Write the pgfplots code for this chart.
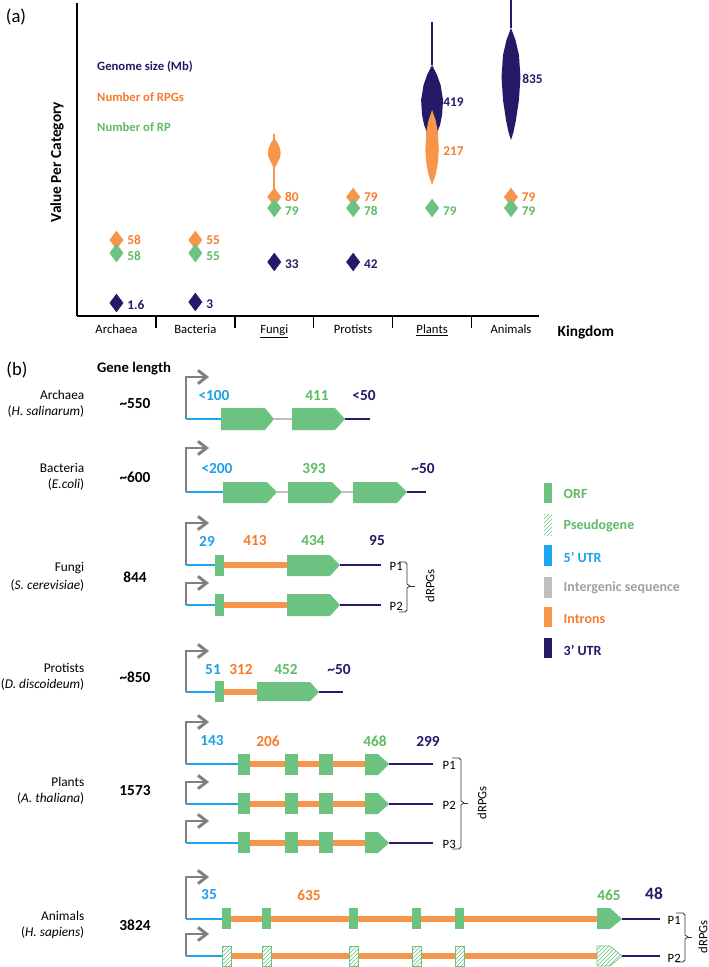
\documentclass[border=0pt]{standalone}
\usepackage{fontspec}
\setmainfont{Carlito}
\usepackage{pgfplots}
\pgfplotsset{compat=1.18}
\usetikzlibrary{arrows.meta,patterns}
\definecolor{navy}{HTML}{241A68}
\definecolor{orfgreen}{HTML}{6CC280}
\definecolor{greentext}{HTML}{5DBB63}
\definecolor{orfill}{HTML}{F7964A}
\definecolor{ortext}{HTML}{F47C2C}
\definecolor{utrblue}{HTML}{1BA6EF}
\definecolor{bluetext}{HTML}{1E9FEB}
\definecolor{igsgray}{HTML}{BFBFBF}
\definecolor{arrowgray}{HTML}{808080}
\definecolor{graytext}{HTML}{A0A0A0}
\newcommand\fNum{\fontsize{11.5}{13}\selectfont\bfseries}
\newcommand\fLab{\fontsize{10}{12}\selectfont}
\newcommand\fP{\fontsize{9.5}{11}\selectfont}
\newcommand\fV{\fontsize{10}{12}\selectfont\bfseries}
\pgfplotsset{
 utr5/.style={color=utrblue, line width=1.9pt},
 igs/.style={color=igsgray, line width=1.9pt},
 intr/.style={color=orfill, line width=4pt},
 utr3/.style={color=navy, line width=1.9pt},
 tss/.style={color=arrowgray, line width=2.2pt, -{Straight Barb[length=6.5pt,width=10pt]}},
 orf/.style={fill=orfgreen, draw=none},
 pseudo/.style={pattern=north east lines, pattern color=orfgreen, draw=orfgreen, line width=0.5pt},
 brk/.style={color=black!80, line width=0.6pt},
}
\begin{document}
\begin{tikzpicture}
\path[use as bounding box] (0,0) rectangle (531.75pt,725.25pt);
\begin{axis}[at={(0,0)}, anchor=south west, scale only axis, width=531.75pt, height=725.25pt,
 xmin=0, xmax=709, ymin=0, ymax=967, y dir=reverse, hide axis, clip=false,
 every node/.append style={inner sep=0pt}]
% panel labels
\node[anchor=center, font=\fontsize{14}{16}\selectfont] at (axis cs:16,17) {(a)};
\node[anchor=center, font=\fontsize{14}{16}\selectfont] at (axis cs:17,370) {(b)};
\node[anchor=center, font=\fontsize{11}{13}\selectfont\bfseries] at (axis cs:134,369) {Gene length};
% left labels
\node[anchor=east, font=\fLab] at (axis cs:89,395) {Archaea};
\node[anchor=east, font=\fLab] at (axis cs:89,412) {(\textit{H. salinarum})};
\node[anchor=east, font=\fLab] at (axis cs:89,468) {Bacteria};
\node[anchor=east, font=\fLab] at (axis cs:89,485) {(\textit{E.coli})};
\node[anchor=east, font=\fLab] at (axis cs:89,568) {Fungi};
\node[anchor=east, font=\fLab] at (axis cs:89,586) {(\textit{S. cerevisiae})};
\node[anchor=east, font=\fLab] at (axis cs:89,668) {Protists};
\node[anchor=east, font=\fLab] at (axis cs:89,685) {(\textit{D. discoideum})};
\node[anchor=east, font=\fLab] at (axis cs:89,782) {Plants};
\node[anchor=east, font=\fLab] at (axis cs:89,799) {(\textit{A. thaliana})};
\node[anchor=east, font=\fLab] at (axis cs:89,916) {Animals};
\node[anchor=east, font=\fLab] at (axis cs:89,933) {(\textit{H. sapiens})};
% gene lengths
\node[font=\fNum] at (axis cs:135,404) {\textasciitilde550};
\node[font=\fNum] at (axis cs:135,477) {\textasciitilde600};
\node[font=\fNum] at (axis cs:135,577) {844};
\node[font=\fNum] at (axis cs:135,677) {\textasciitilde850};
\node[font=\fNum] at (axis cs:135,791) {1573};
\node[font=\fNum] at (axis cs:135,925) {3824};
% ---------- Archaea
\addplot[tss] coordinates {(186,419) (186,377) (209,377)};
\addplot[utr5] coordinates {(186,419) (221,419)};
\addplot[igs] coordinates {(274,419) (292,419)};
\addplot[utr3] coordinates {(345,419) (370,419)};
\addplot[orf] coordinates {(221,408) (265,408) (274,419) (265,430) (221,430)};
\addplot[orf] coordinates {(292,408) (335,408) (345,419) (335,430) (292,430)};
\node[font=\fNum, text=bluetext] at (axis cs:214,396) {<100};
\node[font=\fNum, text=greentext] at (axis cs:317,396) {411};
\node[font=\fNum, text=navy] at (axis cs:364,396) {<50};
% ---------- Bacteria
\addplot[tss] coordinates {(186,492) (186,448) (209,448)};
\addplot[utr5] coordinates {(186,492) (223,492)};
\addplot[igs] coordinates {(277,492) (288,492)};
\addplot[igs] coordinates {(342,492) (353,492)};
\addplot[utr3] coordinates {(407,492) (426,492)};
\addplot[orf] coordinates {(223,482) (267,482) (277,492) (267,503) (223,503)};
\addplot[orf] coordinates {(288,482) (332,482) (342,492) (332,503) (288,503)};
\addplot[orf] coordinates {(353,482) (397,482) (407,492) (397,503) (353,503)};
\node[font=\fNum, text=bluetext] at (axis cs:217,469) {<200};
\node[font=\fNum, text=greentext] at (axis cs:314,469) {393};
\node[font=\fNum, text=navy] at (axis cs:423,469) {\textasciitilde50};
% ---------- Fungi P1
\addplot[tss] coordinates {(186,565) (186,523) (209,523)};
\addplot[utr5] coordinates {(186,565) (215,565)};
\addplot[intr] coordinates {(224,565) (287,565)};
\addplot[utr3] coordinates {(340,565) (381,565)};
\addplot[orf] coordinates {(215,555) (224,555) (224,576) (215,576)};
\addplot[orf] coordinates {(287,555) (330,555) (340,565) (330,576) (287,576)};
% Fungi P2
\addplot[tss] coordinates {(186,605) (186,583) (209,583)};
\addplot[utr5] coordinates {(186,605) (215,605)};
\addplot[intr] coordinates {(224,605) (287,605)};
\addplot[utr3] coordinates {(340,605) (381,605)};
\addplot[orf] coordinates {(215,594) (224,594) (224,616) (215,616)};
\addplot[orf] coordinates {(287,594) (330,594) (340,605) (330,616) (287,616)};
\node[anchor=west, font=\fP] at (axis cs:385,566) {P1};
\node[anchor=west, font=\fP] at (axis cs:385,606) {P2};
\addplot[brk] coordinates {(399,562) (405,562) (407,564) (407,584) (410,586) (407,588) (407,610) (405,612) (399,612)};
\addplot[brk] coordinates {(410,586) (415,586)};
\node[rotate=90, font=\fP] at (axis cs:430,586) {dRPGs};
\node[font=\fNum, text=bluetext] at (axis cs:207,541) {29};
\node[font=\fNum, text=ortext] at (axis cs:255,541) {413};
\node[font=\fNum, text=greentext] at (axis cs:313,541) {434};
\node[font=\fNum, text=navy] at (axis cs:377,541) {95};
% ---------- Protists
\addplot[tss] coordinates {(186,692) (186,651) (209,651)};
\addplot[utr5] coordinates {(186,692) (215,692)};
\addplot[intr] coordinates {(224,692) (257,692)};
\addplot[utr3] coordinates {(319,692) (343,692)};
\addplot[orf] coordinates {(215,681) (224,681) (224,702) (215,702)};
\addplot[orf] coordinates {(257,682) (310,682) (319,692) (310,701) (257,701)};
\node[font=\fNum, text=bluetext] at (axis cs:213,670) {51};
\node[font=\fNum, text=ortext] at (axis cs:241,670) {312};
\node[font=\fNum, text=greentext] at (axis cs:286,670) {452};
\node[font=\fNum, text=navy] at (axis cs:339,670) {\textasciitilde50};
% ---------- Plants P1
\addplot[tss] coordinates {(186,764) (186,722) (209,722)};
\addplot[utr5] coordinates {(186,764) (238,764)};
\addplot[intr] coordinates {(250,764) (365,764)};
\addplot[utr3] coordinates {(389,764) (433,764)};
\addplot[orf] coordinates {(238,754) (250,754) (250,775) (238,775)};
\addplot[orf] coordinates {(285,754) (298,754) (298,775) (285,775)};
\addplot[orf] coordinates {(319,754) (333,754) (333,775) (319,775)};
\addplot[orf] coordinates {(365,754) (378,754) (389,764) (378,775) (365,775)};
% Plants P2
\addplot[tss] coordinates {(186,804) (186,782) (209,782)};
\addplot[utr5] coordinates {(186,804) (238,804)};
\addplot[intr] coordinates {(250,804) (365,804)};
\addplot[utr3] coordinates {(389,804) (433,804)};
\addplot[orf] coordinates {(238,793) (250,793) (250,814) (238,814)};
\addplot[orf] coordinates {(285,793) (298,793) (298,814) (285,814)};
\addplot[orf] coordinates {(319,793) (333,793) (333,814) (319,814)};
\addplot[orf] coordinates {(365,793) (378,793) (389,804) (378,814) (365,814)};
% Plants P3
\addplot[tss] coordinates {(186,843) (186,821) (209,821)};
\addplot[utr5] coordinates {(186,843) (238,843)};
\addplot[intr] coordinates {(250,843) (365,843)};
\addplot[utr3] coordinates {(389,843) (433,843)};
\addplot[orf] coordinates {(238,832) (250,832) (250,853) (238,853)};
\addplot[orf] coordinates {(285,832) (298,832) (298,853) (285,853)};
\addplot[orf] coordinates {(319,832) (333,832) (333,853) (319,853)};
\addplot[orf] coordinates {(365,832) (378,832) (389,843) (378,853) (365,853)};
\node[anchor=west, font=\fP] at (axis cs:438,765) {P1};
\node[anchor=west, font=\fP] at (axis cs:438,805) {P2};
\node[anchor=west, font=\fP] at (axis cs:438,844) {P3};
\addplot[brk] coordinates {(452,758) (459,758) (461,760) (461,801) (464,803) (461,805) (461,847) (459,849) (452,849)};
\addplot[brk] coordinates {(464,803) (468,803)};
\node[rotate=90, font=\fP] at (axis cs:482,803) {dRPGs};
\node[font=\fNum, text=bluetext] at (axis cs:212,741) {143};
\node[font=\fNum, text=ortext] at (axis cs:268,741) {206};
\node[font=\fNum, text=greentext] at (axis cs:375,741) {468};
\node[font=\fNum, text=navy] at (axis cs:428,741) {299};
% ---------- Animals P1
\addplot[tss] coordinates {(186,919) (186,877) (209,877)};
\addplot[utr5] coordinates {(186,919) (222,919)};
\addplot[intr] coordinates {(231,919) (597,919)};
\addplot[utr3] coordinates {(622,919) (660,919)};
\addplot[orf] coordinates {(222,908) (231,908) (231,929) (222,929)};
\addplot[orf] coordinates {(262,908) (271,908) (271,929) (262,929)};
\addplot[orf] coordinates {(349,908) (358,908) (358,929) (349,929)};
\addplot[orf] coordinates {(412,908) (421,908) (421,929) (412,929)};
\addplot[orf] coordinates {(455,908) (464,908) (464,929) (455,929)};
\addplot[orf] coordinates {(597,908) (610,908) (622,919) (610,929) (597,929)};
% Animals P2
\addplot[tss] coordinates {(186,956) (186,934) (209,934)};
\addplot[utr5] coordinates {(186,956) (222,956)};
\addplot[intr] coordinates {(231,956) (597,956)};
\addplot[utr3] coordinates {(622,956) (660,956)};
\addplot[fill=white, draw=none] coordinates {(222,946) (231,946) (231,966) (222,966)};
\addplot[pseudo] coordinates {(222,946) (231,946) (231,966) (222,966)} -- cycle;
\addplot[fill=white, draw=none] coordinates {(262,946) (271,946) (271,966) (262,966)};
\addplot[pseudo] coordinates {(262,946) (271,946) (271,966) (262,966)} -- cycle;
\addplot[fill=white, draw=none] coordinates {(349,946) (358,946) (358,966) (349,966)};
\addplot[pseudo] coordinates {(349,946) (358,946) (358,966) (349,966)} -- cycle;
\addplot[fill=white, draw=none] coordinates {(412,946) (421,946) (421,966) (412,966)};
\addplot[pseudo] coordinates {(412,946) (421,946) (421,966) (412,966)} -- cycle;
\addplot[fill=white, draw=none] coordinates {(455,946) (464,946) (464,966) (455,966)};
\addplot[pseudo] coordinates {(455,946) (464,946) (464,966) (455,966)} -- cycle;
\addplot[fill=white, draw=none] coordinates {(597,946) (610,946) (622,956) (610,966) (597,966)};
\addplot[pseudo] coordinates {(597,946) (610,946) (622,956) (610,966) (597,966)} -- cycle;
\node[anchor=west, font=\fP] at (axis cs:663,920) {P1};
\node[anchor=west, font=\fP] at (axis cs:663,958) {P2};
\addplot[brk] coordinates {(676,913) (683,913) (685,915) (685,935) (688,937) (685,939) (685,960) (683,962) (676,962)};
\addplot[brk] coordinates {(688,937) (692,937)};
\node[rotate=90, font=\fP] at (axis cs:703,937) {dRPGs};
\node[font=\fNum, text=bluetext] at (axis cs:209,895) {35};
\node[font=\fNum, text=ortext] at (axis cs:309,895) {635};
\node[font=\fNum, text=greentext] at (axis cs:609,895) {465};
\node[font=\fontsize{13}{15}\selectfont\bfseries, text=navy] at (axis cs:654,894) {48};
% ---------- legend (b)
\addplot[orf] coordinates {(544,483) (552,483) (552,503) (544,503)};
\addplot[pattern=north east lines, pattern color=orfgreen, draw=none] coordinates {(544,514) (552,514) (552,535) (544,535)};
\addplot[fill=utrblue, draw=none] coordinates {(544,545) (552,545) (552,566) (544,566)};
\addplot[fill=igsgray, draw=none] coordinates {(544,577) (552,577) (552,598) (544,598)};
\addplot[fill=orfill, draw=none] coordinates {(544,607) (552,607) (552,627) (544,627)};
\addplot[fill=navy, draw=none] coordinates {(544,638) (552,638) (552,658) (544,658)};
\node[anchor=west, font=\fontsize{10.5}{12}\selectfont\bfseries, text=greentext] at (axis cs:559,494) {ORF};
\node[anchor=west, font=\fontsize{10.5}{12}\selectfont\bfseries, text=greentext] at (axis cs:559,526) {Pseudogene};
\node[anchor=west, font=\fontsize{10.5}{12}\selectfont\bfseries, text=bluetext] at (axis cs:559,557) {5’ UTR};
\node[anchor=west, font=\fontsize{10.5}{12}\selectfont\bfseries, text=graytext] at (axis cs:559,588) {Intergenic sequence};
\node[anchor=west, font=\fontsize{10.5}{12}\selectfont\bfseries, text=ortext] at (axis cs:559,619) {Introns};
\node[anchor=west, font=\fontsize{10.5}{12}\selectfont\bfseries, text=navy] at (axis cs:559,650) {3’ UTR};
\end{axis}
% ================= panel (a)
\begin{axis}[at={(57.75pt,488.25pt)}, anchor=south west, scale only axis,
 width=346.2pt, height=234.75pt, xmin=-0.5, xmax=5.35, ymin=0, ymax=313,
 axis lines=left, axis line style={-, line width=1.3pt, black},
 x axis line style={-}, y axis line style={-},
 ytick=\empty, xtick={0,1,2,3,4,5},
 xticklabels={Archaea,Bacteria,\underline{Fungi},Protists,\underline{Plants},Animals},
 minor xtick={0.5,1.5,2.5,3.5,4.5}, major tick length=0pt, minor tick length=9pt,
 tick align=outside, minor tick style={line width=1.1pt, black},
 xticklabel style={font=\fontsize{9.5}{11}\selectfont, yshift=-3pt},
 clip=false]
% violins
\addplot[color=navy, line width=1.1pt] coordinates {(4,294) (4,251)};
\addplot[fill=navy, draw=none] coordinates {(4,251) (4.063,241) (4.108,231) (4.139,216) (4.127,201) (4.101,191) (4.063,183) (4,176) (3.937,183) (3.899,191) (3.873,201) (3.861,216) (3.892,231) (3.937,241)};
\addplot[fill=orfill, draw=none] coordinates {(4,206) (4.044,196) (4.074,184) (4.085,166) (4.070,151) (4.044,141) (4,131) (3.956,141) (3.930,151) (3.915,166) (3.926,184) (3.956,196)};
\addplot[color=navy, line width=1.1pt] coordinates {(5,316) (5,288)};
\addplot[fill=navy, draw=none] coordinates {(5,288) (5.057,276) (5.101,261) (5.120,239) (5.101,216) (5.063,196) (5.032,184) (5,176) (4.968,184) (4.937,196) (4.899,216) (4.880,239) (4.899,261) (4.943,276)};
\addplot[color=orfill, line width=1.5pt] coordinates {(2,182) (2,122)};
\addplot[fill=orfill, draw=none] coordinates {(2,178) (2.044,173) (2.070,168) (2.082,163) (2.070,158) (2.038,153) (2.013,149) (1.987,149) (1.962,153) (1.930,158) (1.918,163) (1.930,168) (1.956,173)};
\node[anchor=west, inner sep=0pt, font=\fV, text=navy] at (axis cs:4.14,214) {419};
\node[anchor=west, inner sep=0pt, font=\fV, text=ortext] at (axis cs:4.14,165) {217};
\node[anchor=west, inner sep=0pt, font=\fV, text=navy] at (axis cs:5.14,237) {835};
% diamonds
\addplot[only marks, mark=diamond*, mark size=6.6pt, color=navy, point meta=explicit symbolic,
 nodes near coords, nodes near coords style={anchor=west, inner sep=0pt, xshift=8pt, yshift=-1.5pt, font=\fV, text=navy}]
 table[meta=lab] {
x y lab
0 13 1.6
1 14 3
2 54 33
3 54 42
};
\addplot[only marks, mark=diamond*, mark size=6.6pt, color=orfill, point meta=explicit symbolic,
 nodes near coords, nodes near coords style={anchor=west, inner sep=0pt, xshift=8pt, yshift=0pt, font=\fV, text=ortext}]
 table[meta=lab] {
x y lab
0 76 58
1 76 55
2 119 80
3 119 79
5 119 79
};
\addplot[only marks, mark=diamond*, mark size=6.6pt, color=orfgreen, point meta=explicit symbolic,
 nodes near coords, nodes near coords style={anchor=west, inner sep=0pt, xshift=8pt, yshift=-2.5pt, font=\fV, text=greentext}]
 table[meta=lab] {
x y lab
0 63 58
1 63 55
2 108 79
3 108 78
4 108 79
5 108 79
};
% legend text (a)
\node[anchor=west, inner sep=0pt, font=\fontsize{9.5}{11}\selectfont\bfseries, text=navy] at (axis cs:-0.247,249) {Genome size (Mb)};
\node[anchor=west, inner sep=0pt, font=\fontsize{9.5}{11}\selectfont\bfseries, text=ortext] at (axis cs:-0.247,219) {Number of RPGs};
\node[anchor=west, inner sep=0pt, font=\fontsize{9.5}{11}\selectfont\bfseries, text=greentext] at (axis cs:-0.247,189) {Number of RP};
\node[rotate=90, inner sep=0pt, font=\fontsize{11.5}{13}\selectfont\bfseries] at (axis cs:-0.753,154) {Value Per Category};
\node[inner sep=0pt, font=\fontsize{11.5}{13}\selectfont\bfseries] at (axis cs:5.95,-16) {Kingdom};
\end{axis}
\end{tikzpicture}
\end{document}
